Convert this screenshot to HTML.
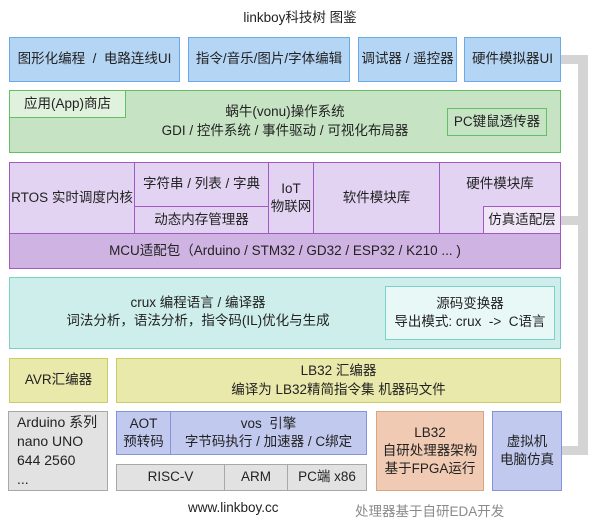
<!DOCTYPE html>
<html><head><meta charset="utf-8"><style>
body{margin:0;width:600px;height:525px;background:#fff;position:relative;overflow:hidden;font-family:"Liberation Sans","Noto Sans CJK SC",sans-serif;font-size:13.5px;color:#222}
.b{position:absolute;box-sizing:border-box;display:flex;align-items:center;justify-content:center;text-align:center;line-height:1.35;border:1.5px solid}
.bl{background:#b5d5f5;border-color:#6aaae8}
.gr{background:#c6e4c4;border-color:#62c062}
.gl{background:#e0f1dd;border-color:#62c062}
.pu{background:#e2d3f2;border-color:#a458c4}
.pm{background:#cfb3e2;border-color:#a458c4}
.cy{background:#cdeeea;border-color:#78d2ca}
.cl{background:#e8f8f6;border-color:#78d2ca}
.ye{background:#e9e9ab;border-color:#cccc66}
.gy{background:#e2e2e2;border-color:#a8a8a8}
.vo{background:#c1c9ee;border-color:#8594da}
.or{background:#f1cab3;border-color:#daa585}
.g{position:absolute;background:#d4d4d4}
.t{position:absolute;white-space:nowrap}
</style></head><body>
<div class="t" style="left:0;width:600px;text-align:center;top:6px">linkboy科技树 图鉴</div>

<div class="g" style="left:561px;top:55px;width:27px;height:9px"></div>
<div class="g" style="left:578px;top:55px;width:10px;height:400px"></div>
<div class="g" style="left:561px;top:216px;width:27px;height:9px"></div>
<div class="g" style="left:561px;top:446px;width:27px;height:9px"></div>

<div class="b bl" style="left:9px;top:37px;width:171px;height:45px">图形化编程 &nbsp;/ &nbsp;电路连线UI</div>
<div class="b bl" style="left:188px;top:37px;width:162px;height:45px">指令/音乐/图片/字体编辑</div>
<div class="b bl" style="left:358px;top:37px;width:99px;height:45px">调试器 / 遥控器</div>
<div class="b bl" style="left:464px;top:37px;width:97px;height:45px">硬件模拟器UI</div>

<div class="b gr" style="left:9px;top:90px;width:552px;height:63px">蜗牛(vonu)操作系统<br>GDI / 控件系统 / 事件驱动 / 可视化布局器</div>
<div class="b gl" style="left:9px;top:90px;width:117px;height:28px">应用(App)商店</div>
<div class="b gr" style="left:447px;top:108px;width:100px;height:28px">PC键鼠透传器</div>

<div class="b pu" style="left:9px;top:162px;width:126px;height:72px">RTOS 实时调度内核</div>
<div class="b pu" style="left:134px;top:162px;width:135px;height:45px">字符串 / 列表 / 字典</div>
<div class="b pu" style="left:134px;top:206px;width:135px;height:28px">动态内存管理器</div>
<div class="b pu" style="left:268px;top:162px;width:46px;height:72px">IoT<br>物联网</div>
<div class="b pu" style="left:313px;top:162px;width:127px;height:72px">软件模块库</div>
<div class="b pu" style="left:439px;top:162px;width:122px;height:72px;align-items:flex-start;padding-top:12px">硬件模块库</div>
<div class="b pu" style="left:483px;top:206px;width:78px;height:28px;background:#f0e6f8">仿真适配层</div>
<div class="b pm" style="left:9px;top:233px;width:552px;height:36px">MCU适配包（Arduino / STM32 / GD32 / ESP32 / K210 ... )</div>

<div class="b cy" style="left:9px;top:277px;width:552px;height:72px"></div>
<div class="t" style="left:0;width:396px;text-align:center;top:294px;line-height:1.35">crux 编程语言 / 编译器<br>词法分析，语法分析，指令码(IL)优化与生成</div>
<div class="b cl" style="left:385px;top:286px;width:170px;height:54px">源码变换器<br>导出模式: crux &nbsp;-&gt; &nbsp;C语言</div>

<div class="b ye" style="left:9px;top:358px;width:99px;height:45px">AVR汇编器</div>
<div class="b ye" style="left:116px;top:358px;width:445px;height:45px">LB32 汇编器<br>编译为 LB32精简指令集 机器码文件</div>

<div class="b gy" style="left:8px;top:411px;width:100px;height:80px;justify-content:flex-start;text-align:left;padding-left:8px;font-size:14px">Arduino 系列<br>nano UNO<br>644 2560<br>...</div>
<div class="b vo" style="left:116px;top:411px;width:55px;height:44px">AOT<br>预转码</div>
<div class="b vo" style="left:170px;top:411px;width:197px;height:44px">vos &nbsp;引擎<br>字节码执行 / 加速器 / C绑定</div>
<div class="b gy" style="left:116px;top:464px;width:109px;height:27px">RISC-V</div>
<div class="b gy" style="left:224px;top:464px;width:64px;height:27px">ARM</div>
<div class="b gy" style="left:287px;top:464px;width:80px;height:27px">PC端 x86</div>
<div class="b or" style="left:376px;top:411px;width:108px;height:80px">LB32<br>自研处理器架构<br>基于FPGA运行</div>
<div class="b vo" style="left:492px;top:411px;width:70px;height:80px">虚拟机<br>电脑仿真</div>

<div class="t" style="left:188px;top:500px">www.linkboy.cc</div>
<div class="t" style="left:355px;top:500px;color:#8a8a8a">处理器基于自研EDA开发</div>
</body></html>
